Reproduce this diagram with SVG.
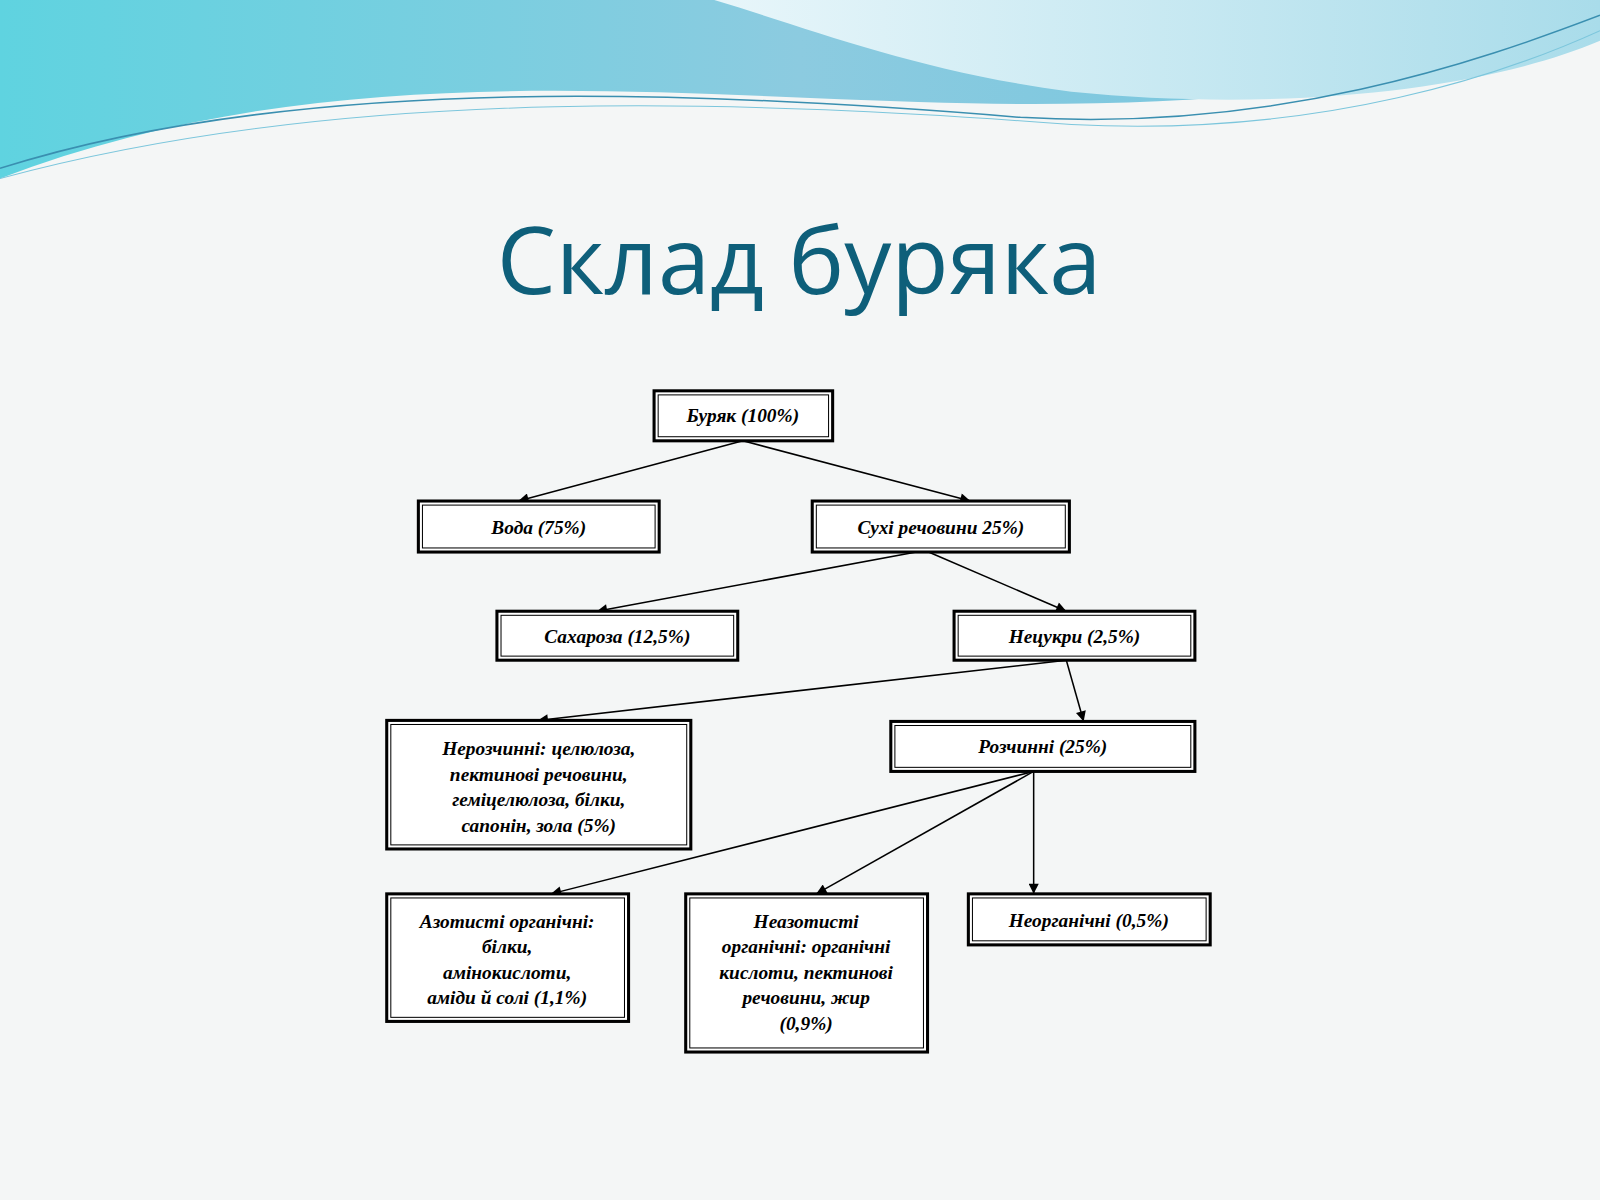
<svg xmlns="http://www.w3.org/2000/svg" width="1600" height="1200" viewBox="0 0 1600 1200">
<defs>
<linearGradient id="g1" x1="0" y1="0" x2="1" y2="0"><stop offset="0" stop-color="#5fd3e0"/><stop offset="0.5" stop-color="#8ccbe0"/><stop offset="1" stop-color="#6cc4dd"/></linearGradient>
<linearGradient id="g2" x1="0" y1="0" x2="1" y2="0"><stop offset="0" stop-color="#e8f6fa"/><stop offset="1" stop-color="#a9dcea"/></linearGradient>
<marker id="ah" viewBox="0 0 10 10" refX="10" refY="5" markerWidth="13" markerHeight="10" orient="auto" markerUnits="userSpaceOnUse"><path d="M0,0 L10,5 L0,10 z" fill="#000"/></marker>
<style>
.o{fill:#fff;stroke:#000;stroke-width:3}
.i{fill:none;stroke:#000;stroke-width:1}
.t{font-family:"Liberation Serif",serif;font-weight:bold;font-style:italic;font-size:19px;text-anchor:middle;fill:#000}
.c line{stroke:#000;stroke-width:1.5;marker-end:url(#ah)}
</style>
</defs>
<rect width="1600" height="1200" fill="#f4f6f6"/>
<g transform="scale(1.0204)">
<path d="M0,0 H1568 V30 C1400,80 1200,110 900,100 C600,90 300,60 0,175 Z" fill="url(#g1)"/>
<path d="M700,0 H1568 V40 C1450,90 1250,110 1050,90 C900,70 800,30 700,0 Z" fill="url(#g2)"/>
<path d="M0,165 C300,70 700,90 1000,115 C1250,130 1450,60 1568,15" fill="none" stroke="#3a8fb0" stroke-width="1.5"/>
<path d="M0,175 C350,80 750,100 1050,122 C1300,135 1480,70 1568,30" fill="none" stroke="#7cc6dc" stroke-width="1"/>
<text x="783" y="288" font-family="Open Sans, sans-serif" font-size="92" fill="#0e5f7a" text-anchor="middle">Склад буряка</text>
<g class="c">
<line x1="728" y1="432" x2="508" y2="491"/>
<line x1="728" y1="432" x2="951" y2="491"/>
<line x1="898" y1="541" x2="585" y2="599"/>
<line x1="910" y1="541" x2="1045" y2="599"/>
<line x1="1045" y1="647" x2="527" y2="706"/>
<line x1="1045" y1="647" x2="1062" y2="707"/>
<line x1="1013" y1="756" x2="540" y2="876"/>
<line x1="1013" y1="756" x2="800" y2="876"/>
<line x1="1013" y1="756" x2="1013" y2="876"/>
</g>
<g id="n1"><rect class="o" x="641" y="383" width="175" height="49"/><rect class="i" x="645" y="387" width="167" height="41"/><text class="t" x="728" y="414">Буряк (100%)</text></g>
<g id="n2"><rect class="o" x="410" y="491" width="236" height="50"/><rect class="i" x="414" y="495" width="228" height="42"/><text class="t" x="528" y="523">Вода (75%)</text></g>
<g id="n3"><rect class="o" x="796" y="491" width="252" height="50"/><rect class="i" x="800" y="495" width="244" height="42"/><text class="t" x="922" y="523">Сухі речовини 25%)</text></g>
<g id="n4"><rect class="o" x="487" y="599" width="236" height="48"/><rect class="i" x="491" y="603" width="228" height="40"/><text class="t" x="605" y="630">Сахароза (12,5%)</text></g>
<g id="n5"><rect class="o" x="935" y="599" width="236" height="48"/><rect class="i" x="939" y="603" width="228" height="40"/><text class="t" x="1053" y="630">Нецукри (2,5%)</text></g>
<g id="n6"><rect class="o" x="379" y="706" width="298" height="126"/><rect class="i" x="383" y="710" width="290" height="118"/>
<text class="t" x="528" y="740">Нерозчинні: целюлоза,</text><text class="t" x="528" y="765">пектинові речовини,</text><text class="t" x="528" y="790">геміцелюлоза, білки,</text><text class="t" x="528" y="815">сапонін, зола (5%)</text></g>
<g id="n7"><rect class="o" x="873" y="707" width="298" height="49"/><rect class="i" x="877" y="711" width="290" height="41"/><text class="t" x="1022" y="738">Розчинні (25%)</text></g>
<g id="n8"><rect class="o" x="379" y="876" width="237" height="125"/><rect class="i" x="383" y="880" width="229" height="117"/>
<text class="t" x="497" y="909">Азотисті органічні:</text><text class="t" x="497" y="934">білки,</text><text class="t" x="497" y="959">амінокислоти,</text><text class="t" x="497" y="984">аміди й солі (1,1%)</text></g>
<g id="n9"><rect class="o" x="672" y="876" width="237" height="155"/><rect class="i" x="676" y="880" width="229" height="147"/>
<text class="t" x="790" y="909">Неазотисті</text><text class="t" x="790" y="934">органічні: органічні</text><text class="t" x="790" y="959">кислоти, пектинові</text><text class="t" x="790" y="984">речовини, жир</text><text class="t" x="790" y="1009">(0,9%)</text></g>
<g id="n10"><rect class="o" x="949" y="876" width="237" height="50"/><rect class="i" x="953" y="880" width="229" height="42"/><text class="t" x="1067" y="908">Неорганічні (0,5%)</text></g>
</g>
</svg>
